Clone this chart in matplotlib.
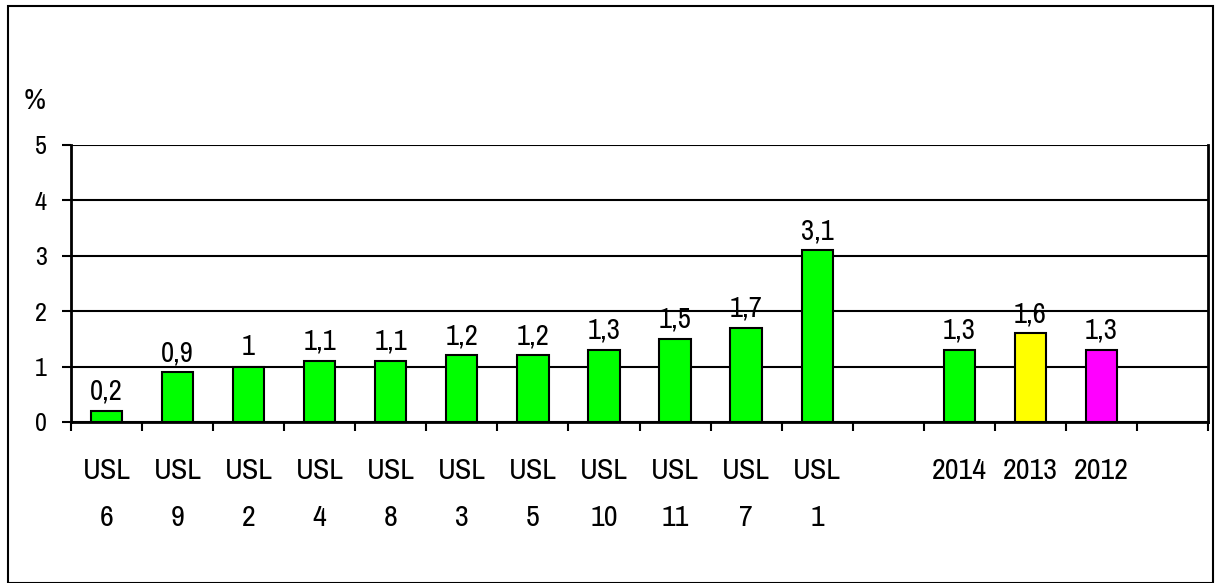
import matplotlib.pyplot as plt
from matplotlib.patches import Rectangle
from matplotlib.textpath import TextPath
from matplotlib.font_manager import FontProperties
import numpy as np

FONT = 'Archivo Narrow'
plt.rcParams['font.family'] = [FONT, 'Liberation Sans', 'DejaVu Sans']
DPI = 100

# slots: 11 units, gap, 3 years, gap
labels = ['USL\n6', 'USL\n9', 'USL\n2', 'USL\n4', 'USL\n8', 'USL\n3', 'USL\n5',
          'USL\n10', 'USL\n11', 'USL\n7', 'USL\n1', '', '2014', '2013', '2012', '']
values = [0.2, 0.9, 1.0, 1.1, 1.1, 1.2, 1.2, 1.3, 1.5, 1.7, 3.1, None, 1.3, 1.6, 1.3, None]
value_text = ['0,2', '0,9', '1', '1,1', '1,1', '1,2', '1,2', '1,3', '1,5', '1,7', '3,1',
              '', '1,3', '1,6', '1,3', '']
colors = ['#00ff00'] * 11 + ['none', '#00ff00', '#ffff00', '#ff00ff', 'none']

fp = FontProperties(family=FONT)


def glyph_h(txt):
    # glyph height above baseline, as a fraction of the font size
    return TextPath((0, 0), txt, size=100, prop=fp).get_extents().y1 / 100


def size_for(txt, px):
    # font size in points that gives txt a height of px pixels
    return px / glyph_h(txt) * 72 / DPI


cat_size = size_for('USL', 21)
tick_size = size_for('5', 18)
val_size = size_for('0', 20)
pct_size = size_for('%', 21)
# baseline to baseline about 42 px for the two-line labels
l_px = glyph_h('l') * cat_size * DPI / 72
cat_ls = 42 / l_px

fig = plt.figure(figsize=(12.18, 5.83), dpi=DPI)
# outer chart frame (left 8px, top 5px, right ~1213px, bottom at the image edge)
fig.patches.append(Rectangle((8 / 1218, 0.5 / 583), 1205 / 1218, 577 / 583,
                             transform=fig.transFigure, fill=False,
                             edgecolor='black', linewidth=1.5))

ax = fig.add_axes([0.0583, 0.2762, 0.9335, 0.4751])

x = np.arange(len(labels))
for i, v in enumerate(values):
    if v is None:
        continue
    ax.bar(x[i], v, width=0.44, color=colors[i], edgecolor='black', linewidth=1.5, zorder=3)
    ax.annotate(value_text[i], (x[i], v), xytext=(0, 8), textcoords='offset points',
                ha='center', va='baseline', fontsize=val_size)

ax.set_xlim(-0.5, len(labels) - 0.5)
ax.set_ylim(0, 5)
ax.set_yticks([0, 1, 2, 3, 4, 5])
ax.yaxis.grid(True, color='black', linewidth=1.5)
ax.set_axisbelow(True)

ax.set_xticks(x)
ax.set_xticklabels(labels, fontsize=cat_size, linespacing=cat_ls)
ax.tick_params(axis='x', which='major', length=0, pad=25)
ax.set_xticks(np.arange(-0.5, len(labels)), minor=True)
ax.tick_params(axis='x', which='minor', length=6.5, width=1.5, direction='out')
ax.tick_params(axis='y', length=6.5, width=1.5, labelsize=tick_size, pad=11)

for s in ['left', 'right', 'bottom']:
    ax.spines[s].set_linewidth(2)
ax.spines['top'].set_visible(False)

ax.text(-0.032, 1.16, '%', transform=ax.transAxes, fontsize=pct_size, ha='center', va='center')

plt.savefig('out.png', dpi=DPI)
